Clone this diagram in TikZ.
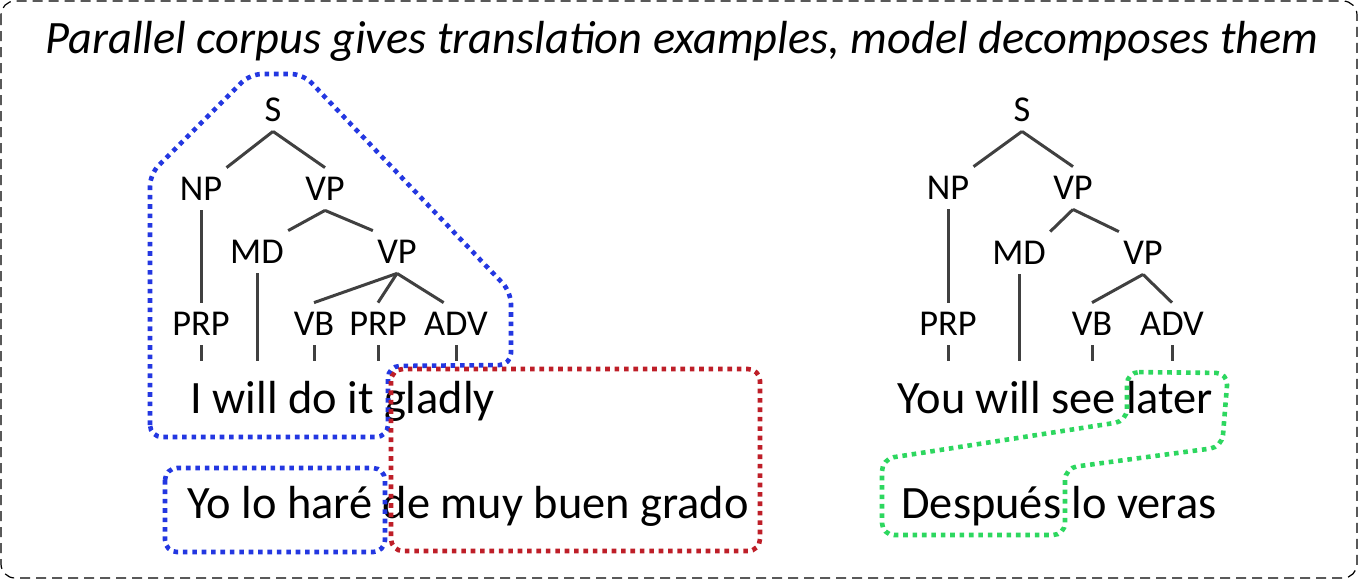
\documentclass[tikz,border=0pt]{standalone}
\usepackage{fontspec}
\setmainfont{Carlito}
\usepackage{tikz}
\usepackage{color}

\definecolor{treegray}{RGB}{64,64,64}
\definecolor{hlblue}{RGB}{35,55,225}
\definecolor{hlred}{RGB}{190,30,40}
\definecolor{hlgreen}{RGB}{45,215,95}

\begin{document}
\begin{tikzpicture}[x=0.5pt,y=-0.5pt,
  lab/.style={anchor=base,inner xsep=2pt,inner ysep=5pt,text height=11pt,text depth=0pt,font=\fontsize{18.2}{21}\selectfont},
  sent/.style={anchor=base west,inner xsep=0pt,inner ysep=12pt,text height=14pt,text depth=0pt,font=\fontsize{23.2}{27}\selectfont},
  edge/.style={treegray,line width=1.5pt},
  dots/.style={line width=2.3pt,dash pattern=on 2.3pt off 2.4pt,rounded corners=6pt}]
\useasboundingbox (0,0) rectangle (1359,580);
\draw [black,line width=0.6pt,dash pattern=on 5pt off 3pt,rounded corners=7pt] (1,1) rectangle (1357,578);
\node [anchor=base,font=\fontsize{23.2}{27}\selectfont\itshape] (title) at (682,53) {Parallel corpus gives translation examples, model decomposes them};

% left tree
\node [lab] (lS) at (273,121) {S};
\node [lab] (lNP) at (201,200) {NP};
\node [lab] (lVP) at (325,200) {VP};
\node [lab] (lMD) at (257,263) {MD};
\node [lab] (lVPb) at (397,263) {VP};
\node [lab] (lPRP) at (201,335) {PRP};
\node [lab] (lVB) at (314,335) {VB};
\node [lab] (lPRPb) at (378,335) {PRP};
\node [lab] (lADV) at (456,335) {ADV};
\node [sent] (lsrc) at (190,413) {I will do it gladly};
\node [sent] (ltgt) at (187,518) {Yo lo haré de muy buen grado};
\draw [edge] (lS.south) -- (lNP.north east);
\draw [edge] (lS.south) -- (lVP.north);
\draw [edge] (lNP.south) -- (lPRP.north);
\draw [edge] (lVP.south) -- (lMD.north east);
\draw [edge] (lVP.south) -- (lVPb.north west);
\draw [edge] (lVPb.south) -- (lVB.north);
\draw [edge] (lVPb.south) -- (lPRPb.north);
\draw [edge] (lVPb.south) -- (lADV.120);
\draw [edge] (lMD.south) -- (lMD.south |- lsrc.north);
\foreach \n in {lPRP,lVB,lPRPb,lADV}
  \draw [edge] (\n.south) -- (\n.south |- lsrc.north);

% right tree
\node [lab] (rS) at (1022,121) {S};
\node [lab] (rNP) at (948,199) {NP};
\node [lab] (rVP) at (1073,199) {VP};
\node [lab] (rMD) at (1019,264) {MD};
\node [lab] (rVPb) at (1143,264) {VP};
\node [lab] (rPRP) at (948,335) {PRP};
\node [lab] (rVB) at (1092,335) {VB};
\node [lab] (rADV) at (1172,335) {ADV};
\node [sent] (rsrc) at (897,413) {You will see later};
\node [sent] (rtgt) at (901,518) {Después lo veras};
\draw [edge] (rS.south) -- (rNP.north east);
\draw [edge] (rS.south) -- (rVP.north);
\draw [edge] (rNP.south) -- (rPRP.north);
\draw [edge] (rVP.south) -- (rMD.north east);
\draw [edge] (rVP.south) -- (rVPb.north west);
\draw [edge] (rVPb.south) -- (rVB.north);
\draw [edge] (rVPb.south) -- (rADV.north);
\draw [edge] (rMD.south) -- (rMD.south |- rsrc.north);
\foreach \n in {rPRP,rVB,rADV}
  \draw [edge] (\n.south) -- (\n.south |- rsrc.north);

% alignments
\draw [dots,hlblue] (150,437) -- (150,174) -- (250,74) -- (303,74) -- (511,292) -- (511,365) -- (388,366) -- (388,437) -- cycle;
\draw [dots,hlblue] (165,468) rectangle (385,552);
\draw [dots,hlred] (391,369) rectangle (760,551);
\draw [dots,hlgreen] (1127,372) -- (1228,373) -- (1222,447) -- (1065,468) -- (1065,535) -- (882,535) -- (882,459) -- (1127,421) -- cycle;
\end{tikzpicture}
\end{document}
